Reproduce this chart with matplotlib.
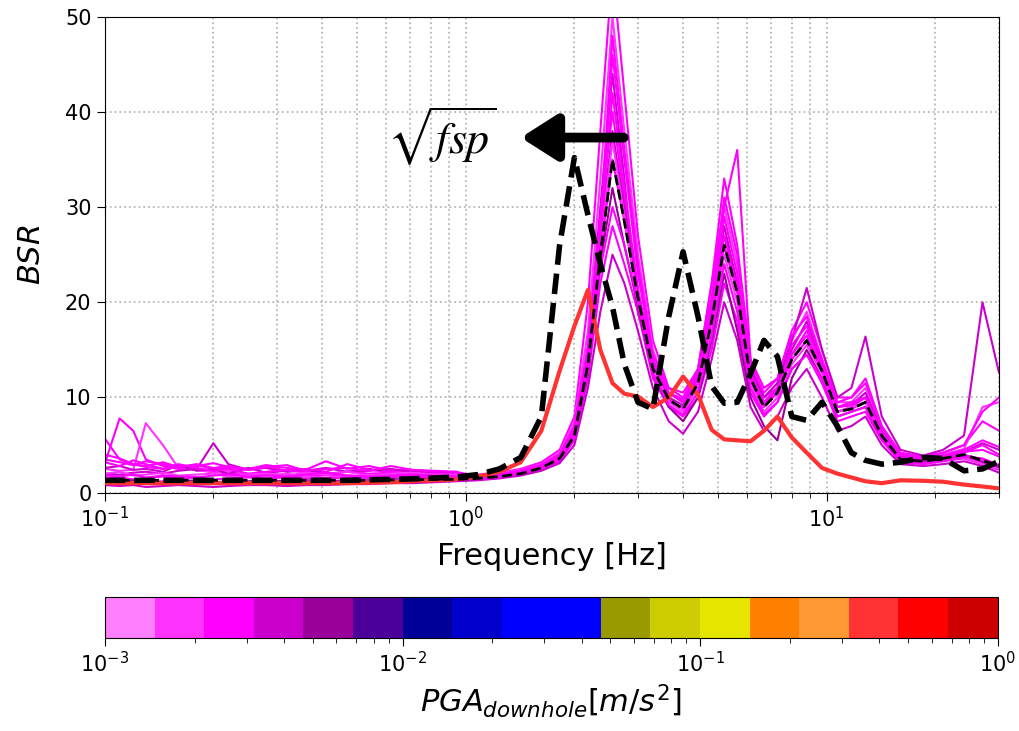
import numpy as np
import matplotlib
matplotlib.use("Agg")
import matplotlib.pyplot as plt
from matplotlib.colors import ListedColormap, LogNorm
from matplotlib.cm import ScalarMappable

# ---------------- data ----------------
freq = [0.10, 0.11, 0.12, 0.13, 0.145, 0.16, 0.18, 0.20, 0.22, 0.25,
        0.28, 0.32, 0.36, 0.41, 0.47, 0.54, 0.62, 0.71, 0.82, 0.94,
        1.08, 1.24, 1.42, 1.62, 1.82, 2.00, 2.18, 2.36, 2.55, 2.75,
        3.00, 3.30, 3.65, 4.00, 4.40, 4.80, 5.20, 5.65, 6.15, 6.70,
        7.30, 8.00, 8.80, 9.70, 10.7, 11.7, 12.8, 14.2, 16.0, 18.5,
        21.0, 24.0, 27.0, 30.0]

# low-frequency part (0.10 - 0.94 Hz) of each magenta record
m_low_1 = [3.0, 7.8, 6.5, 3.5, 2.8, 2.5, 2.4, 2.2, 2.0, 1.9, 2.0, 1.8, 1.7, 1.9, 1.8, 1.7, 1.6, 1.7, 1.8, 1.9]
m_low_2 = [2.5, 2.3, 2.4, 7.3, 5.0, 2.6, 2.4, 2.1, 2.3, 1.9, 1.8, 2.0, 1.7, 1.6, 1.8, 1.7, 1.9, 1.8, 1.7, 1.8]
m_low_3 = [2.0, 1.9, 2.1, 2.2, 2.0, 2.3, 2.5, 5.2, 3.0, 2.4, 2.6, 2.2, 2.3, 2.6, 2.2, 2.5, 2.1, 1.9, 2.0, 2.1]
m_low_4 = [5.7, 3.5, 3.0, 2.8, 3.2, 2.7, 2.9, 2.5, 2.6, 2.4, 2.8, 2.3, 2.5, 2.2, 3.0, 2.4, 2.2, 2.3, 2.1, 2.2]
m_low_5 = [3.5, 3.2, 2.9, 3.3, 3.0, 2.6, 2.8, 3.1, 2.7, 2.5, 2.9, 2.6, 2.4, 3.3, 2.5, 2.8, 2.3, 2.4, 2.2, 2.0]
m_low_6 = [1.5, 1.6, 1.4, 1.5, 1.7, 1.5, 1.6, 1.4, 1.5, 1.6, 1.5, 1.6, 1.5, 1.5, 1.6, 1.5, 1.6, 1.6, 1.7, 1.7]
m_low_7 = [0.8, 0.7, 0.8, 0.6, 0.7, 0.8, 0.7, 0.6, 0.7, 0.8, 0.8, 0.7, 0.8, 0.8, 0.9, 0.9, 1.0, 1.0, 1.1, 1.2]
m_low_8 = [2.6, 2.8, 2.4, 2.5, 2.2, 2.9, 2.3, 2.5, 2.0, 2.6, 2.1, 2.3, 2.4, 2.0, 2.2, 2.3, 2.5, 2.2, 2.0, 2.1]
m_low_9 = [1.2, 1.1, 1.3, 1.2, 1.1, 1.2, 1.3, 1.1, 1.2, 1.2, 1.3, 1.2, 1.3, 1.2, 1.3, 1.3, 1.4, 1.4, 1.5, 1.5]
m_low_10 = [4.0, 3.6, 3.0, 2.7, 2.5, 3.0, 2.6, 2.3, 2.5, 2.0, 2.2, 2.4, 2.1, 1.9, 2.2, 2.0, 2.1, 1.9, 2.0, 2.0]
m_low_11 = [2.0, 2.2, 1.8, 1.9, 2.1, 1.8, 1.9, 2.0, 1.7, 1.9, 2.0, 1.8, 2.1, 1.9, 2.2, 1.8, 2.0, 2.1, 1.9, 1.9]
m_low_12 = [1.0, 1.1, 1.0, 1.1, 1.2, 1.0, 1.1, 1.1, 1.0, 1.1, 1.0, 1.1, 1.2, 1.1, 1.2, 1.2, 1.3, 1.3, 1.4, 1.4]
m_low_13 = [3.2, 2.8, 3.4, 3.0, 2.5, 2.7, 3.0, 2.6, 2.8, 2.4, 2.7, 2.9, 2.3, 2.5, 2.6, 2.3, 2.8, 2.4, 2.3, 2.2]
m_low_14 = [1.8, 1.7, 1.9, 1.6, 1.8, 1.7, 1.6, 1.8, 1.9, 1.7, 1.8, 1.7, 1.9, 2.1, 1.8, 1.7, 1.8, 1.9, 1.8, 1.7]

# high-frequency part (1.08 - 30 Hz) of each magenta record
m_high_1 = [1.9, 2.1, 2.5, 3.2, 4.5, 8.0, 20, 38, 55, 42, 27, 16, 11, 10, 13, 22, 33, 26, 14, 11, 12, 17, 20, 15, 10, 10, 12, 7.0, 4.2, 3.8, 4.2, 5.0, 7.5, 6.5]
m_high_2 = [1.8, 2.0, 2.4, 3.0, 4.2, 7.5, 17, 33, 50, 38, 25, 15, 10.5, 9.5, 12.5, 20, 30, 24, 13, 10, 11.5, 16, 19, 14, 9.5, 9.5, 11, 6.8, 4.0, 3.6, 4.0, 4.6, 9.0, 9.5]
m_high_3 = [1.7, 1.9, 2.2, 2.8, 3.9, 6.8, 15, 30, 44, 33, 18.8, 14, 10, 9.2, 12, 19, 28, 22, 12.5, 9.5, 11, 15, 18, 13.5, 9.0, 9.2, 10.5, 6.5, 3.8, 3.5, 3.8, 4.3, 5.2, 4.5]
m_high_4 = [1.7, 1.9, 2.3, 2.9, 4.0, 7.0, 15.5, 29, 40, 31, 21, 13.5, 9.5, 9.0, 13, 22, 30, 36, 14, 10, 11, 15.5, 17.5, 13, 8.5, 9.0, 10, 6.2, 3.7, 3.4, 3.7, 4.2, 5.0, 4.0]
m_high_5 = [1.5, 1.7, 2.0, 2.6, 3.6, 6.0, 13.5, 25, 35, 28.5, 20.5, 13, 9.8, 8.8, 11.5, 18, 26, 21, 12, 9.0, 10.5, 14, 16, 12.8, 8.5, 8.8, 9.5, 6.0, 3.5, 3.3, 3.6, 4.0, 3.4, 2.8]
m_high_6 = [1.4, 1.6, 1.9, 2.4, 3.3, 5.5, 12, 22, 28, 24, 19, 12, 9.0, 8.0, 10, 15, 22, 18, 10.5, 8.0, 9.5, 13, 14.5, 11.5, 7.5, 8.0, 8.5, 5.5, 3.2, 3.0, 3.3, 3.6, 3.0, 2.4]
m_high_7 = [1.3, 1.5, 1.8, 2.3, 3.1, 5.0, 11, 19, 25, 22, 17, 11, 7.5, 6.2, 8.5, 14, 20, 16, 9.0, 6.5, 8.0, 11, 13, 10, 6.5, 7.0, 8.0, 5.0, 3.0, 2.8, 3.0, 3.3, 2.8, 2.1]
m_high_8 = [1.6, 1.8, 2.1, 2.7, 3.7, 6.2, 14, 27, 38, 30, 21, 13.5, 10.5, 9.5, 12, 19, 27, 22, 13, 10, 11.5, 16, 21.5, 15, 10, 11, 16.4, 8.0, 4.5, 3.9, 4.5, 6.0, 20, 12.6]
m_high_9 = [1.5, 1.7, 2.0, 2.5, 3.4, 5.8, 12.5, 24, 32, 26, 19.5, 12.5, 9.0, 7.5, 10, 16, 23, 17, 10, 7.0, 5.5, 12, 15, 12, 8.0, 8.5, 9.0, 5.8, 3.4, 3.2, 3.5, 3.8, 3.2, 2.6]
m_high_10 = [1.6, 1.8, 2.2, 2.8, 3.8, 6.5, 14.5, 27, 46, 35, 23, 14, 10.5, 9.8, 12.5, 19.5, 29, 23, 12.5, 9.5, 11, 14.5, 17, 13.5, 9.0, 9.5, 10, 6.3, 3.6, 3.4, 3.9, 4.5, 5.5, 4.8]
m_high_11 = [1.5, 1.7, 2.1, 2.6, 3.5, 6.0, 13, 26, 37, 29, 20, 13, 9.5, 8.5, 11, 17, 25, 20, 11.5, 8.5, 10, 13.5, 15.5, 12.5, 8.5, 9.0, 9.5, 6.0, 3.4, 3.1, 3.4, 3.7, 3.0, 2.5]
m_high_12 = [1.6, 1.8, 2.1, 2.7, 3.6, 6.1, 13.8, 26.5, 42, 32, 21.5, 13.5, 10.5, 9.5, 12, 18.5, 27, 21.5, 12.2, 9.2, 10.8, 14.5, 16.5, 13, 9.0, 9.2, 10, 6.3, 3.7, 3.4, 3.7, 4.3, 4.5, 3.8]
m_high_13 = [1.4, 1.6, 2.0, 2.5, 3.4, 5.7, 12.8, 23.5, 30, 26, 20, 12.5, 9.2, 8.2, 10.5, 16.5, 24, 19, 11, 8.2, 9.5, 13, 14.5, 12, 8.0, 8.5, 9.0, 5.8, 3.3, 3.1, 3.4, 3.8, 3.6, 2.9]
m_high_14 = [1.7, 1.9, 2.3, 2.9, 4.0, 6.8, 15, 28, 48, 36, 24, 14.5, 11, 10.5, 13, 20.5, 31, 25, 13.5, 10.5, 12, 16.5, 18.5, 14, 9.5, 10, 11.5, 7.0, 4.0, 3.7, 4.2, 5.0, 8.5, 10]

m_low = [m_low_1, m_low_2, m_low_3, m_low_4, m_low_5, m_low_6, m_low_7,
         m_low_8, m_low_9, m_low_10, m_low_11, m_low_12, m_low_13, m_low_14]
m_high = [m_high_1, m_high_2, m_high_3, m_high_4, m_high_5, m_high_6, m_high_7,
          m_high_8, m_high_9, m_high_10, m_high_11, m_high_12, m_high_13, m_high_14]
m_pga = [2.5e-3, 1.8e-3, 3.5e-3, 2.8e-3, 2.2e-3, 2.3e-3, 4.0e-3,
         3.8e-3, 5.0e-3, 2.4e-3, 1.9e-3, 2.9e-3, 2.7e-3, 2.6e-3]

# red record (strong motion)
red_pga = 0.4
red_bsr = [1.0, 1.0, 1.0, 1.0, 1.0, 1.0, 1.0, 1.0, 1.0, 1.0,
           1.0, 1.0, 1.0, 1.0, 1.0, 1.05, 1.1, 1.2, 1.3, 1.4,
           1.7, 2.2, 3.2, 6.5, 12.8, 17.5, 21.3, 15.0, 11.5, 10.4,
           10.1, 9.0, 10.0, 12.2, 10.3, 6.6, 5.6, 5.5, 5.4, 6.5,
           8.0, 5.8, 4.2, 2.6, 2.0, 1.6, 1.2, 1.0, 1.3, 1.25,
           1.15, 0.85, 0.65, 0.45]

# thick dashed reference curve
thick_bsr = [1.3, 1.3, 1.3, 1.3, 1.3, 1.3, 1.3, 1.3, 1.3, 1.3,
             1.3, 1.3, 1.3, 1.3, 1.3, 1.35, 1.4, 1.45, 1.55, 1.65,
             1.9, 2.5, 3.7, 8.0, 26.0, 35.2, 29.2, 24.0, 19.5, 13.5,
             9.5, 8.8, 18.5, 25.3, 18.5, 11.2, 9.4, 9.5, 12.5, 16.0,
             14.3, 8.0, 7.6, 9.5, 7.0, 4.2, 3.4, 3.0, 3.2, 3.7,
             3.6, 2.3, 2.5, 3.3]

# thin dashed (median of weak-motion records)
thin_bsr = [1.3, 1.3, 1.3, 1.3, 1.3, 1.3, 1.3, 1.3, 1.3, 1.3,
            1.3, 1.3, 1.3, 1.3, 1.3, 1.3, 1.35, 1.35, 1.4, 1.4,
            1.5, 1.7, 2.0, 2.6, 3.6, 6.0, 13.5, 25.0, 35.0, 28.5,
            20.5, 13.0, 9.8, 8.8, 11.5, 18.0, 26.0, 21.0, 12.0, 9.0,
            10.5, 14.0, 16.0, 12.8, 8.5, 8.8, 9.5, 6.0, 3.5, 3.3,
            3.6, 4.0, 3.4, 2.8]

cb_colors = ['#ff80ff', '#ff33ff', '#ff00ff', '#cc00cc', '#990099', '#4c0099',
             '#000099', '#0000cc', '#0000ff', '#0000ff', '#999900', '#cccc00',
             '#e5e500', '#ff8000', '#ff9933', '#ff3333', '#ff0000', '#cc0000']

# ---------------- figure ----------------
fig = plt.figure(figsize=(10.19, 7.31), dpi=100)
ax = fig.add_axes([0.1027, 0.326, 0.8777, 0.6512])
cax = fig.add_axes([0.103, 0.127, 0.876, 0.056])

cmap = ListedColormap(cb_colors)
norm = LogNorm(vmin=1e-3, vmax=1.0)

for lo, hi, p in zip(m_low, m_high, m_pga):
    ax.plot(freq, lo + hi, color=cmap(norm(p)), lw=1.5, zorder=2)

ax.plot(freq, red_bsr, color=cmap(norm(red_pga)), lw=3.0, zorder=3)
ax.plot(freq, thick_bsr, color='black', ls='--', lw=4.0, zorder=4)
ax.plot(freq, thin_bsr, color='black', ls='--', lw=2.0, zorder=4)

ax.set_xscale('log')
ax.set_xlim(0.1, 30)
ax.set_ylim(0, 50)
ax.set_yticks([0, 10, 20, 30, 40, 50])
ax.grid(True, which='major', axis='both', ls=':', color='#b8b8b8', lw=1.3)
ax.grid(True, which='minor', axis='x', ls=':', color='#b8b8b8', lw=1.3)
ax.tick_params(labelsize=15, length=6)
ax.tick_params(which='minor', length=3.5)
ax.set_xlabel('Frequency [Hz]', fontsize=22, labelpad=8)
ax.set_ylabel(r'$BSR$', fontsize=22, labelpad=14)

# annotation
ax.annotate('', xy=(1.42, 37.3), xytext=(2.74, 37.3),
            arrowprops=dict(arrowstyle='-|>,head_length=0.55,head_width=0.35',
                            lw=7, color='black', mutation_scale=40,
                            shrinkA=0, shrinkB=0, capstyle='round'),
            zorder=6)
ax.text(0.86, 37.4, r'$\sqrt{fsp}$', fontsize=33, math_fontfamily='stix',
        ha='center', va='center', zorder=6)

# colorbar
sm = ScalarMappable(norm=norm, cmap=cmap)
cb = fig.colorbar(sm, cax=cax, orientation='horizontal')
cb.ax.tick_params(labelsize=15, length=6)
cb.ax.tick_params(which='minor', length=3.5)
cb.set_label(r'$PGA_{downhole}[m/s^2]$', fontsize=22)

fig.savefig('out.png', dpi=100)
